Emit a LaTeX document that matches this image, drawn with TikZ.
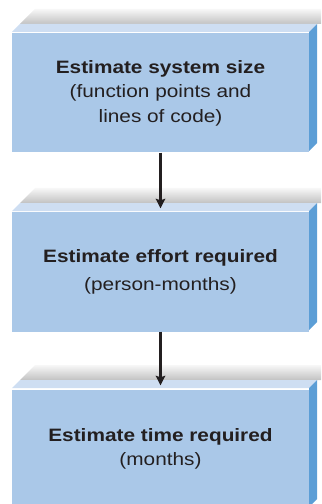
\documentclass[tikz,border=0pt]{standalone}
\usepackage{fontspec}
\setmainfont{Liberation Sans}[FakeStretch=1.16]
\usetikzlibrary{arrows.meta}
\definecolor{frontblue}{RGB}{170,200,232}
\definecolor{topblue}{RGB}{206,222,242}
\definecolor{sideblue}{RGB}{92,158,214}
\definecolor{inkblack}{RGB}{35,31,32}
\begin{document}
\begin{tikzpicture}[x=1bp,y=-1bp,
  front/.style={fill=frontblue, minimum width=297bp, minimum height=119bp,
    inner sep=0pt, align=center, text=inkblack,
    font=\fontsize{18}{24.5}\selectfont},
  flow/.style={draw, line width=2.2bp, inkblack,
    -{Stealth[length=9.5bp,width=9.5bp,inset=1.5bp]}}]
\useasboundingbox (0,0) rectangle (321,504);
\newcommand\estbox[3]{
\shade[top color=gray!6, bottom color=gray!48] (20,{#2-8}) -- (35,{#2-23}) -- (321,{#2-23}) -- (321,{#2-8}) -- cycle;
\path[fill=topblue] (12,#2) -- (20,{#2-8}) -- (317,{#2-8}) -- (309,#2) -- cycle;
\path[fill=sideblue] (309,#2) -- (317,{#2-8}) -- (317,{#2+111}) -- (309,{#2+119}) -- cycle;
\node[front] (#1) at (160.5,{#2+61}) {#3};
}
\estbox{size}{32}{\textbf{Estimate system size}\\(function points and\\lines of code)}
\estbox{effort}{211}{\textbf{Estimate effort required}\\[3bp](person-months)}
\estbox{time}{388}{\textbf{Estimate time required}\\(months)}
\path[flow] (size.south) -- ([yshift=4bp]effort.north);
\path[flow] (effort.south) -- ([yshift=4bp]time.north);
\end{tikzpicture}
\end{document}
